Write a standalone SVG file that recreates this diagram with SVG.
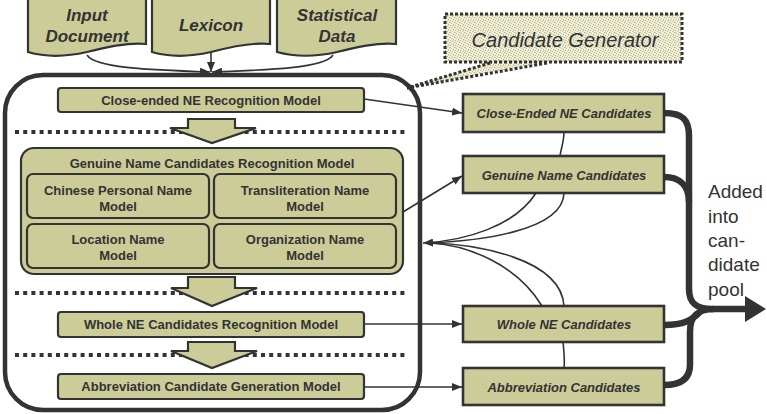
<svg xmlns="http://www.w3.org/2000/svg" width="767" height="414" viewBox="0 0 767 414">
<style>
.olive{fill:#cccc99;stroke:#333;stroke-width:2.2}
.cand{fill:#cccc99;stroke:#333;stroke-width:2.6}
.t{font-family:"Liberation Sans",Arial,sans-serif;font-size:13px;font-weight:bold;fill:#333;text-anchor:middle}
.ti{font-family:"Liberation Sans",Arial,sans-serif;font-size:13px;font-weight:bold;font-style:italic;fill:#333;text-anchor:middle}
.td{font-family:"Liberation Sans",Arial,sans-serif;font-size:17px;font-weight:bold;font-style:italic;fill:#333;text-anchor:middle}
.dots{stroke:#333;stroke-width:4;stroke-dasharray:4 4.2;fill:none}
.ln{stroke:#333;stroke-width:1.6;fill:none}
.thick{stroke:#333;stroke-width:6.5;fill:none}
</style>
<defs>
<marker id="ah" viewBox="0 0 10 8" refX="10" refY="4" markerWidth="10" markerHeight="8" markerUnits="userSpaceOnUse" orient="auto">
<path d="M0,0 L10,4 L0,8 Z" fill="#333"/>
</marker>
<pattern id="stip" width="5" height="5" patternUnits="userSpaceOnUse">
<rect width="5" height="5" fill="#eeeedb"/>
<rect x="0" y="0" width="1" height="1" fill="#b8b784"/>
<rect x="2" y="1" width="1" height="1" fill="#c4c392"/>
<rect x="4" y="2" width="1" height="1" fill="#b8b784"/>
<rect x="1" y="3" width="1" height="1" fill="#c4c392"/>
<rect x="3" y="4" width="1" height="1" fill="#b8b784"/>
<rect x="3" y="0" width="1" height="1" fill="#d0cfa6"/>
<rect x="0" y="2" width="1" height="1" fill="#d0cfa6"/>
</pattern>
</defs>
<rect width="767" height="414" fill="#fff"/>

<g id="input-document">
<path class="olive" d="M28,-3 H146 V44 C130,42 110,46 87,52 C65,57 45,57 28,52 Z"/>
<text class="td" x="87" y="21">Input</text>
<text class="td" x="87" y="42">Document</text>
</g>
<g id="lexicon">
<path class="olive" d="M152,-3 H270 V44 C254,42 234,46 211,52 C189,57 169,57 152,52 Z"/>
<text class="td" x="211" y="31">Lexicon</text>
</g>
<g id="statistical-data">
<path class="olive" d="M277,-3 H396 V44 C380,42 360,46 337,52 C315,57 295,57 277,52 Z"/>
<text class="td" x="337" y="21">Statistical</text>
<text class="td" x="337" y="42">Data</text>
</g>

<g id="candidate-generator">
<polygon points="490,62 407,88 547,62" fill="url(#stip)"/>
<rect x="445" y="14" width="237" height="48" fill="url(#stip)" stroke="#333" stroke-width="3" stroke-dasharray="3 2"/>
<line x1="490" y1="63" x2="407" y2="88" stroke="#333" stroke-width="3" stroke-dasharray="3 2"/>
<line x1="547" y1="63" x2="407" y2="88" stroke="#333" stroke-width="3" stroke-dasharray="3 2"/>
<text x="565" y="47" font-family="'Liberation Sans',Arial,sans-serif" font-size="20" font-style="italic" fill="#333" text-anchor="middle">Candidate Generator</text>
</g>

<g id="candidate-generator-frame">
<rect x="5" y="75" width="415" height="335" rx="38" ry="38" fill="none" stroke="#333" stroke-width="4.5"/>
</g>

<g id="separators">
<line class="dots" x1="15" y1="132" x2="408" y2="132"/>
<line class="dots" x1="15" y1="293" x2="408" y2="293"/>
<line class="dots" x1="15" y1="355" x2="408" y2="355"/>
</g>

<g id="flow-arrows">
<path class="olive" d="M188,119 H235 V128 H256 L212,143 L170,128 H188 Z"/>
<path class="olive" d="M188,277 H235 V288 H257 L212,306 L171,288 H188 Z"/>
<path class="olive" d="M188,342 H235 V351 H257 L212,368 L171,351 H188 Z"/>
</g>

<g id="close-ended-model">
<rect class="olive" x="58" y="88" width="306" height="24" rx="3"/>
<text class="t" x="211" y="105">Close-ended NE Recognition Model</text>
</g>

<g id="genuine-model">
<rect class="olive" x="21" y="148" width="382" height="126" rx="13" stroke-width="2.6"/>
<text class="t" x="212" y="168">Genuine Name Candidates Recognition Model</text>
</g>
<g id="chinese-personal-name-model">
<rect class="olive" x="27" y="174" width="182" height="44" rx="6"/>
<text class="t" x="118" y="195">Chinese Personal Name</text>
<text class="t" x="118" y="211">Model</text>
</g>
<g id="transliteration-name-model">
<rect class="olive" x="214" y="174" width="182" height="44" rx="6"/>
<text class="t" x="305" y="195">Transliteration Name</text>
<text class="t" x="305" y="211">Model</text>
</g>
<g id="location-name-model">
<rect class="olive" x="27" y="224" width="182" height="44" rx="6"/>
<text class="t" x="118" y="244">Location Name</text>
<text class="t" x="118" y="260">Model</text>
</g>
<g id="organization-name-model">
<rect class="olive" x="214" y="224" width="182" height="44" rx="6"/>
<text class="t" x="305" y="244">Organization Name</text>
<text class="t" x="305" y="260">Model</text>
</g>

<g id="whole-ne-model">
<rect class="olive" x="58" y="312" width="306" height="25" rx="3"/>
<text class="t" x="211" y="329">Whole NE Candidates Recognition Model</text>
</g>
<g id="abbreviation-model">
<rect class="olive" x="58" y="374" width="306" height="25" rx="3"/>
<text class="t" x="211" y="391">Abbreviation Candidate Generation Model</text>
</g>

<g id="close-ended-candidates">
<rect class="cand" x="463" y="94" width="201" height="38"/>
<text class="ti" x="564" y="118">Close-Ended NE Candidates</text>
</g>
<g id="genuine-name-candidates">
<rect class="cand" x="463" y="156" width="201" height="37"/>
<text class="ti" x="564" y="180">Genuine Name Candidates</text>
</g>
<g id="whole-ne-candidates">
<rect class="cand" x="463" y="306" width="201" height="36"/>
<text class="ti" x="564" y="329">Whole NE Candidates</text>
</g>
<g id="abbreviation-candidates">
<rect class="cand" x="463" y="368" width="201" height="37"/>
<text class="ti" x="564" y="392">Abbreviation Candidates</text>
</g>

<g id="pool-label" font-family="'Liberation Sans',Arial,sans-serif" font-size="19" fill="#333">
<text x="708" y="198">Added</text>
<text x="708" y="223">into</text>
<text x="708" y="247">can-</text>
<text x="708" y="271">didate</text>
<text x="708" y="296">pool</text>
</g>

<g id="connectors">
<path class="ln" d="M87,55 C95,68 150,70 210,72" marker-end="url(#ah)"/>
<path class="ln" d="M211,53 V72" marker-end="url(#ah)"/>
<path class="ln" d="M333,55 C325,68 270,70 212,72" marker-end="url(#ah)"/>
<path class="ln" d="M364,99 L462,113" marker-end="url(#ah)"/>
<path class="ln" d="M403,212 L462,176" marker-end="url(#ah)"/>
<path class="ln" d="M364,324 H462" marker-end="url(#ah)"/>
<path class="ln" d="M364,387 H462" marker-end="url(#ah)"/>
<path class="ln" d="M564,132 C564,142 561,148 560,156"/>
<path class="ln" d="M563,342 C564,352 565,360 564,368"/>
<path class="ln" d="M536,193 C515,226 465,241 423,243" marker-end="url(#ah)"/>
<path class="ln" d="M564,193 C563,232 475,241 430,243"/>
<path class="ln" d="M542,306 C515,262 465,245 430,243"/>
<path class="ln" d="M564,306 C561,258 475,244 430,243"/>
<path class="thick" d="M664,113 C683,113 689,120 689,136 V289 C689,303 696,309 712,309 H748"/>
<path class="thick" d="M664,177 C680,177 689,186 689,202"/>
<path class="thick" d="M664,325 C684,325 692,320 700,312"/>
<path class="thick" d="M664,385 C682,385 690,378 690,365 V332 C690,316 697,309 714,309"/>
<polygon points="745,296 766,309 745,322" fill="#333"/>
</g>
</svg>
